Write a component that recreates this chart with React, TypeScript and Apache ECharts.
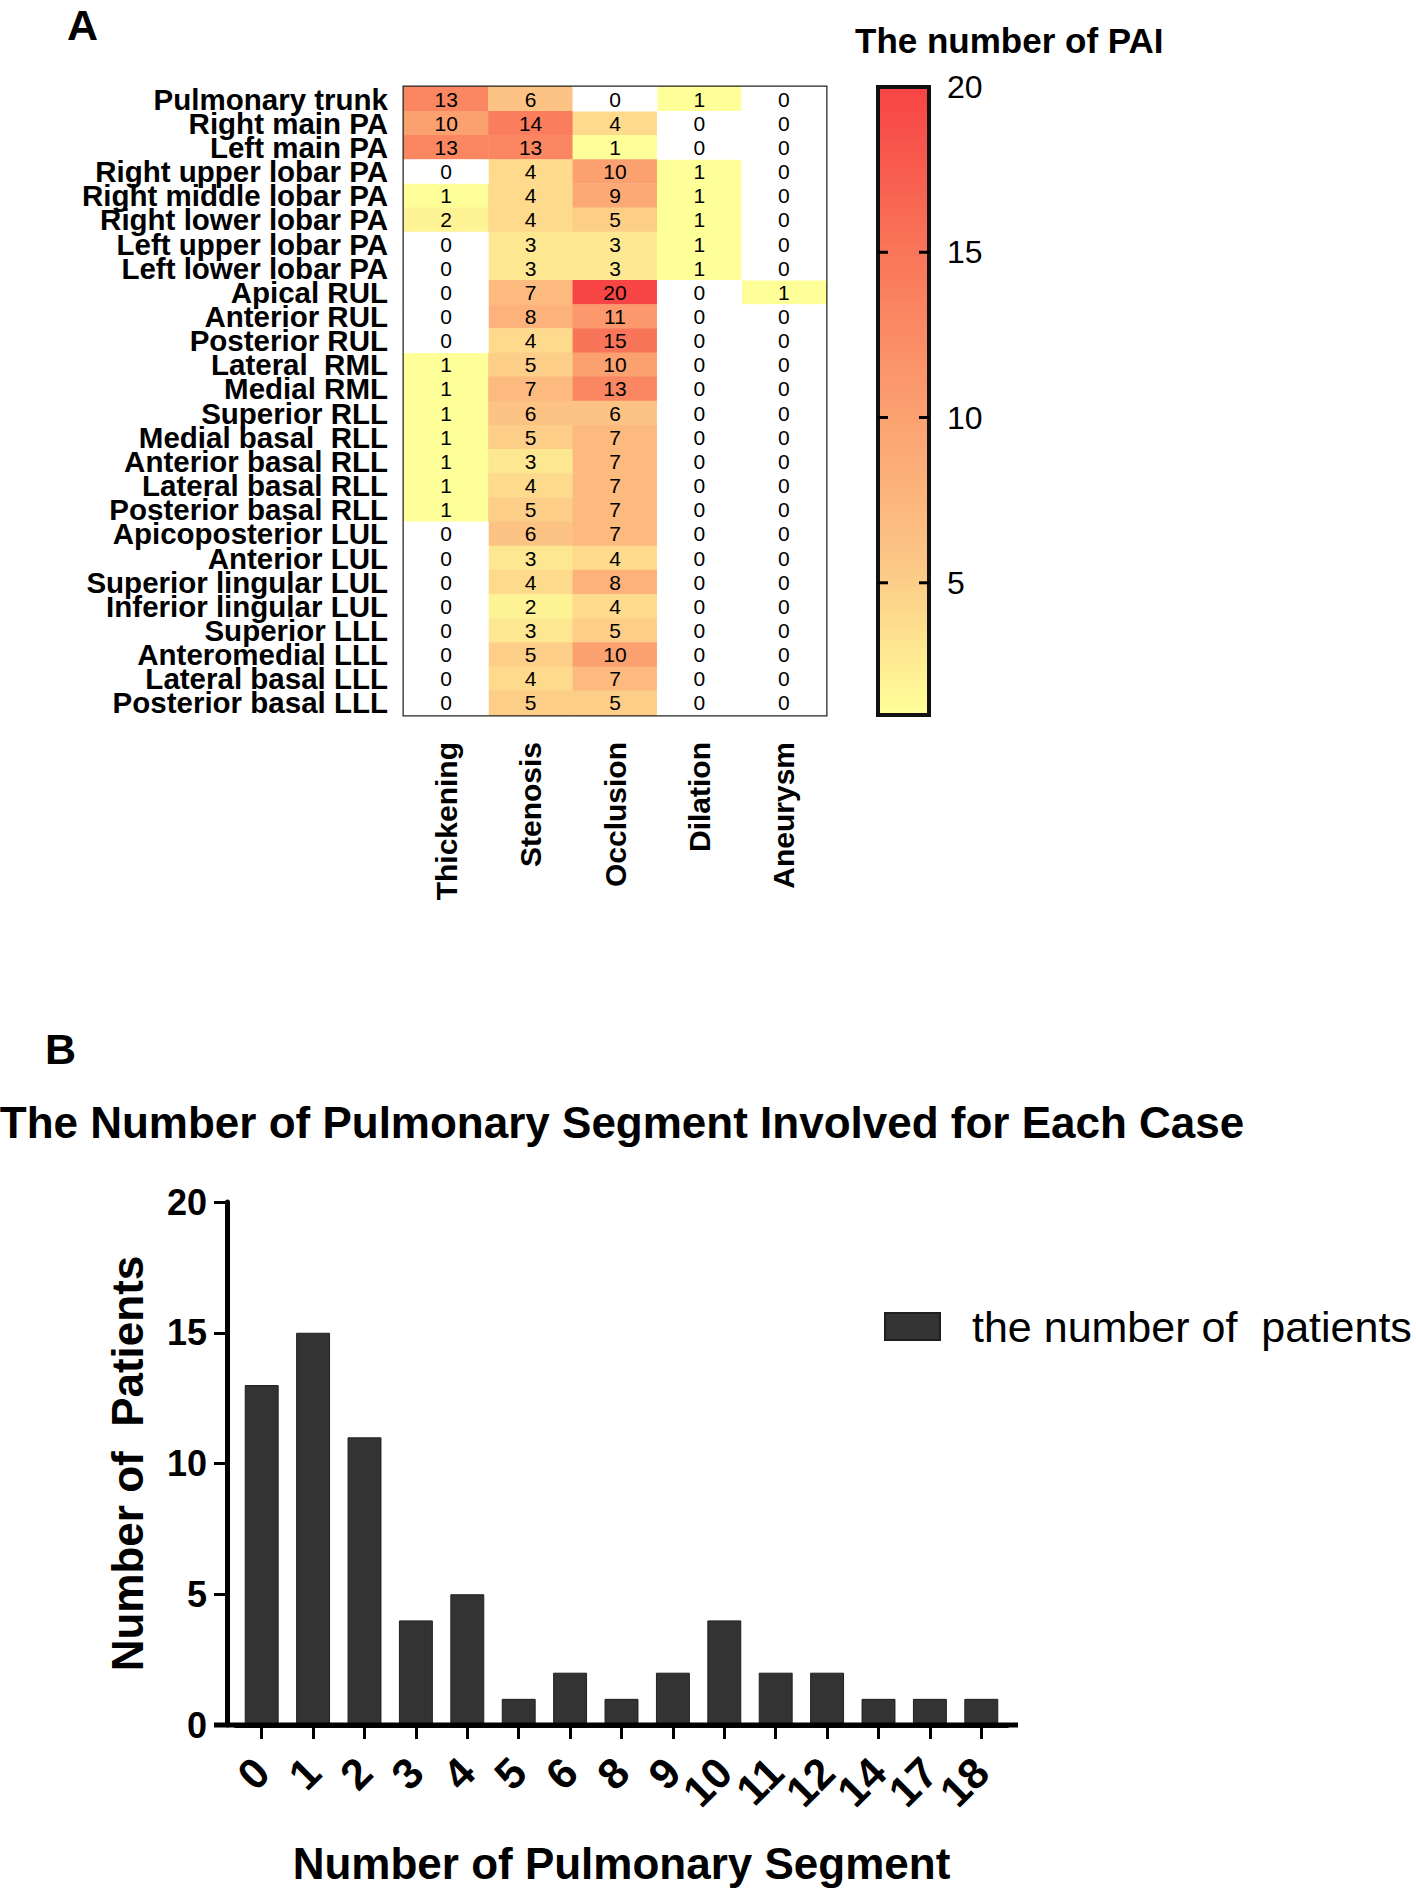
import React, { useEffect, useRef } from "react";
import * as echarts from "echarts";

const ROWS = [
  "Pulmonary trunk", "Right main PA", "Left main PA", "Right upper lobar PA",
  "Right middle lobar PA", "Right lower lobar PA", "Left upper lobar PA", "Left lower lobar PA",
  "Apical RUL", "Anterior RUL", "Posterior RUL", "Lateral  RML", "Medial RML",
  "Superior RLL", "Medial basal  RLL", "Anterior basal RLL", "Lateral basal RLL",
  "Posterior basal RLL", "Apicoposterior LUL", "Anterior LUL", "Superior lingular LUL",
  "Inferior lingular LUL", "Superior LLL", "Anteromedial LLL", "Lateral basal LLL",
  "Posterior basal LLL",
];
const LESIONS = ["Thickening", "Stenosis", "Occlusion", "Dilation", "Aneurysm"];
const THICKENING = [13, 10, 13, 0, 1, 2, 0, 0, 0, 0, 0, 1, 1, 1, 1, 1, 1, 1, 0, 0, 0, 0, 0, 0, 0, 0];
const STENOSIS = [6, 14, 13, 4, 4, 4, 3, 3, 7, 8, 4, 5, 7, 6, 5, 3, 4, 5, 6, 3, 4, 2, 3, 5, 4, 5];
const OCCLUSION = [0, 4, 1, 10, 9, 5, 3, 3, 20, 11, 15, 10, 13, 6, 7, 7, 7, 7, 7, 4, 8, 4, 5, 10, 7, 5];
const DILATION = [1, 0, 0, 1, 1, 1, 1, 1, 0, 0, 0, 0, 0, 0, 0, 0, 0, 0, 0, 0, 0, 0, 0, 0, 0, 0];
const ANEURYSM = [0, 0, 0, 0, 0, 0, 0, 0, 1, 0, 0, 0, 0, 0, 0, 0, 0, 0, 0, 0, 0, 0, 0, 0, 0, 0];
const PAI_MIN = 1;
const PAI_MAX = 20;
const PAI_LABELS = [5, 10, 15, 20];
const PAI_TICKS = [5, 10, 15];
const PAI_COLORS = ["#FFFF99", "#FCC585", "#FB9D6E", "#F97358", "#F74444"];

const SEGMENTS = ["0", "1", "2", "3", "4", "5", "6", "8", "9", "10", "11", "12", "14", "17", "18"];
const PATIENTS = [13, 15, 11, 4, 5, 1, 2, 1, 2, 4, 2, 2, 1, 1, 1];

const FONT = "'Liberation Sans', Arial, Helvetica, sans-serif";

export default function App() {
  const ref = useRef<HTMLDivElement>(null);

  useEffect(() => {
    if (!ref.current) return;
    const chart = echarts.init(ref.current, undefined, { renderer: "svg" });
    const columns = [THICKENING, STENOSIS, OCCLUSION, DILATION, ANEURYSM];
    const heatData: number[][] = [];
    const zeroData: number[][] = [];
    columns.forEach((col, ci) =>
      col.forEach((v, ri) => (v > 0 ? heatData : zeroData).push([ci, ri, v]))
    );

    const gradient = new echarts.graphic.LinearGradient(
      0, 1, 0, 0,
      PAI_COLORS.map((c, i) => ({ offset: i / (PAI_COLORS.length - 1), color: c }))
    );

    const baseGraphic: any[] = [
      { type: "text", x: 67, y: 3, style: { text: "A", fontSize: 43, fontWeight: "bold", fontFamily: FONT, fill: "#000", verticalAlign: "top" } },
      { type: "text", x: 855, y: 40, style: { text: "The number of PAI", fontSize: 35, fontWeight: "bold", fontFamily: FONT, fill: "#000", verticalAlign: "middle" } },
      { type: "text", x: 45, y: 1049, style: { text: "B", fontSize: 43, fontWeight: "bold", fontFamily: FONT, fill: "#000", verticalAlign: "middle" } },
      { type: "text", x: 622, y: 1122, style: { text: "The Number of Pulmonary Segment Involved for Each Case", fontSize: 44, fontWeight: "bold", fontFamily: FONT, fill: "#000", align: "center", verticalAlign: "middle" } },
    ];

    const option: any = {
      animation: false,
      backgroundColor: "#ffffff",
      textStyle: { fontFamily: FONT },
      graphic: baseGraphic,
      grid: [
        { left: 404, top: 87, width: 422, height: 628, show: true, borderColor: "#222", borderWidth: 3, backgroundColor: "#fff", containLabel: false, outerBoundsMode: "none" },
        { left: 878, top: 87, width: 51, height: 628, show: true, borderColor: "#111", borderWidth: 4, backgroundColor: gradient, containLabel: false, outerBoundsMode: "none" },
        { left: 236, top: 1202, width: 771, height: 523, containLabel: false, outerBoundsMode: "none" },
      ],
      xAxis: [
        {
          type: "category", gridIndex: 0, data: LESIONS, position: "bottom",
          axisLine: { show: false }, axisTick: { show: false }, splitLine: { show: false },
          axisLabel: { interval: 0, rotate: 90, margin: 27, fontSize: 30, fontWeight: "bold", color: "#000", fontFamily: FONT },
        },
        { type: "value", gridIndex: 1, show: false, min: 0, max: 1 },
        {
          type: "category", gridIndex: 2, data: SEGMENTS,
          axisLine: { show: true, lineStyle: { color: "#000", width: 5 } },
          axisTick: { show: true, alignWithLabel: true, length: 14, lineStyle: { color: "#000", width: 3 } },
          axisLabel: { interval: 0, rotate: 45, margin: 40, fontSize: 43, fontWeight: "bold", color: "#000", fontFamily: FONT },
          name: "Number of Pulmonary Segment", nameLocation: "middle", nameGap: 116,
          nameTextStyle: { fontSize: 44, fontWeight: "bold", color: "#000", fontFamily: FONT },
        },
      ],
      yAxis: [
        {
          type: "category", gridIndex: 0, data: ROWS, inverse: true,
          axisLine: { show: false }, axisTick: { show: false }, splitLine: { show: false },
          axisLabel: { interval: 0, margin: 16, fontSize: 29.5, fontWeight: "bold", color: "#000", fontFamily: FONT },
        },
        {
          type: "value", gridIndex: 1, min: PAI_MIN, max: PAI_MAX, position: "right",
          axisLine: { show: false }, splitLine: { show: false }, axisTick: { show: false },
          axisLabel: { show: true, margin: 18, fontSize: 32, color: "#000", fontFamily: FONT, customValues: PAI_LABELS },
        },
        {
          type: "value", gridIndex: 2, min: 0, max: 20, interval: 5, offset: 9,
          axisLine: { show: true, lineStyle: { color: "#000", width: 5 } },
          axisTick: { show: true, length: 13, lineStyle: { color: "#000", width: 3 } },
          splitLine: { show: false },
          axisLabel: { margin: 20, fontSize: 36, fontWeight: "bold", color: "#000", fontFamily: FONT },
          name: "Number of  Patients", nameLocation: "middle", nameGap: 78, nameRotate: 90,
          nameTextStyle: { fontSize: 44, fontWeight: "bold", color: "#000", fontFamily: FONT },
        },
      ],
      visualMap: [
        {
          type: "continuous", show: false, seriesIndex: 0, dimension: 2,
          min: PAI_MIN, max: PAI_MAX,
          inRange: { color: PAI_COLORS },
        },
        {
          type: "continuous", show: false, seriesIndex: 1, dimension: 2,
          min: 0, max: 1,
          inRange: { color: ["#ffffff", "#ffffff"] },
          outOfRange: { color: "#ffffff" },
        },
      ],
      legend: {
        show: true, data: ["the number of  patients"], left: 884, top: 1305, padding: 0,
        itemWidth: 55, itemHeight: 27, selectedMode: false, icon: "rect",
        textStyle: { fontSize: 43, color: "#000", fontFamily: FONT, padding: [0, 0, 0, 27] },
      },
      series: [
        {
          type: "heatmap", xAxisIndex: 0, yAxisIndex: 0, data: heatData,
          label: { show: true, fontSize: 21, color: "#000", fontFamily: FONT },
          itemStyle: { borderWidth: 0 },
          emphasis: { disabled: true },
        },
        {
          type: "heatmap", xAxisIndex: 0, yAxisIndex: 0, data: zeroData,
          label: { show: true, fontSize: 21, color: "#000", fontFamily: FONT },
          itemStyle: { borderWidth: 0 },
          emphasis: { disabled: true },
        },
        {
          type: "bar", name: "the number of  patients", xAxisIndex: 2, yAxisIndex: 2,
          data: PATIENTS, barWidth: "66%",
          itemStyle: { color: "#333333", borderColor: "#1f1f1f", borderWidth: 1 },
        },
      ],
    };
    chart.setOption(option);

    // colour-bar inner ticks, placed through the colour-bar grid's scales
    const extra: any[] = [];
    PAI_TICKS.forEach((v) => {
      const pL = chart.convertToPixel({ gridIndex: 1 }, [0, v]) as number[];
      const pR = chart.convertToPixel({ gridIndex: 1 }, [1, v]) as number[];
      if (!pL || !pR) return;
      extra.push({ type: "line", shape: { x1: pL[0], y1: pL[1], x2: pL[0] + 10, y2: pL[1] }, style: { stroke: "#000", lineWidth: 3 }, z: 10 });
      extra.push({ type: "line", shape: { x1: pR[0] - 10, y1: pR[1], x2: pR[0], y2: pR[1] }, style: { stroke: "#000", lineWidth: 3 }, z: 10 });
    });
    // bar-chart baseline that overshoots the plot like the reference
    const p0 = chart.convertToPixel({ gridIndex: 2 }, [0, 0]) as number[];
    const pN = chart.convertToPixel({ gridIndex: 2 }, [SEGMENTS.length - 1, 0]) as number[];
    if (p0 && pN) {
      const half = (pN[0] - p0[0]) / (SEGMENTS.length - 1) / 2;
      extra.push({ type: "line", shape: { x1: p0[0] - half - 22, y1: p0[1], x2: pN[0] + half + 11, y2: pN[1] }, style: { stroke: "#000", lineWidth: 5 }, z: 10 });
    }
    chart.setOption({ graphic: [...baseGraphic, ...extra] });

    return () => chart.dispose();
  }, []);

  return (
    <div
      ref={ref}
      style={{ position: "absolute", left: 0, top: 0, width: 1416, height: 1891, background: "#fff" }}
    />
  );
}
